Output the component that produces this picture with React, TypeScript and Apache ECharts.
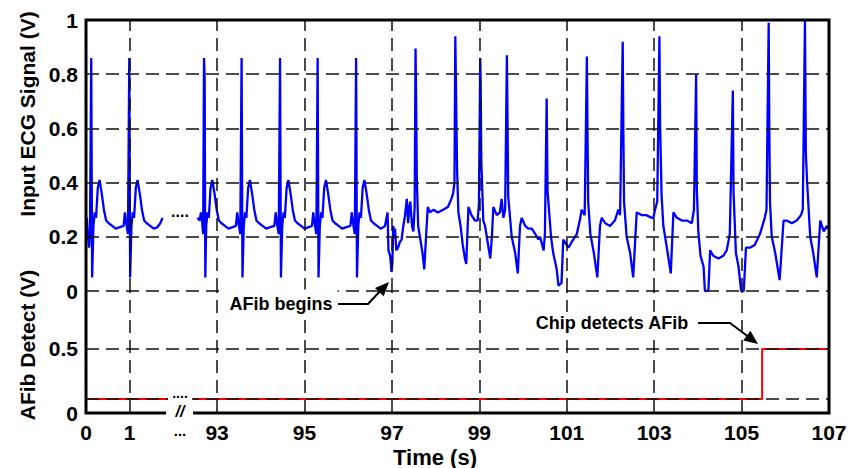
import React, { useEffect, useRef } from "react";
import * as echarts from "echarts";

// ---- data (time in seconds, voltage in V) ----
const ecgBeforeBreak: [number, number][] = [
  [0.0, 0.24], [0.02, 0.27], [0.04, 0.21], [0.07, 0.16], [0.09, 0.21],
  [0.12, 0.86], [0.14, 0.05], [0.17, 0.24], [0.2, 0.29], [0.23, 0.27], [0.27, 0.38], [0.31, 0.41],
  [0.36, 0.36], [0.41, 0.3], [0.46, 0.26], [0.52, 0.25], [0.6, 0.24], [0.68, 0.23], [0.76, 0.235],
  [0.86, 0.24], [0.89, 0.29], [0.92, 0.25], [0.96, 0.21],
  [0.99, 0.86], [1.01, 0.05], [1.04, 0.24], [1.07, 0.29], [1.1, 0.27], [1.14, 0.38], [1.18, 0.41],
  [1.23, 0.36], [1.28, 0.3], [1.33, 0.26], [1.39, 0.25], [1.47, 0.24], [1.55, 0.23], [1.63, 0.235],
  [1.7, 0.25], [1.75, 0.27],
];

const ecgAfterBreak: [number, number][] = [
  [92.55, 0.27], [92.6, 0.26], [92.63, 0.29], [92.66, 0.25], [92.68, 0.21],
  [92.7, 0.86], [92.715, 0.78], [92.73, 0.05], [92.75, 0.24], [92.78, 0.29], [92.81, 0.27], [92.85, 0.38],
  [92.89, 0.41], [92.94, 0.36], [92.99, 0.3], [93.04, 0.26], [93.1, 0.25], [93.18, 0.24], [93.26, 0.23],
  [93.34, 0.235], [93.43, 0.24], [93.46, 0.29], [93.49, 0.25], [93.53, 0.21],
  [93.56, 0.86], [93.58, 0.05], [93.61, 0.24], [93.64, 0.29], [93.67, 0.27], [93.71, 0.38], [93.75, 0.41],
  [93.8, 0.36], [93.85, 0.3], [93.9, 0.26], [93.96, 0.25], [94.04, 0.24], [94.12, 0.23], [94.2, 0.235],
  [94.31, 0.24], [94.34, 0.29], [94.37, 0.25], [94.41, 0.21],
  [94.44, 0.86], [94.46, 0.05], [94.49, 0.24], [94.52, 0.29], [94.55, 0.27], [94.59, 0.38], [94.63, 0.41],
  [94.68, 0.36], [94.73, 0.3], [94.78, 0.26], [94.84, 0.25], [94.92, 0.24], [95.0, 0.23], [95.08, 0.235],
  [95.17, 0.24], [95.2, 0.29], [95.23, 0.25], [95.27, 0.21],
  [95.3, 0.86], [95.32, 0.05], [95.35, 0.24], [95.38, 0.29], [95.41, 0.27], [95.45, 0.38], [95.49, 0.41],
  [95.54, 0.36], [95.59, 0.3], [95.64, 0.26], [95.7, 0.25], [95.78, 0.24], [95.86, 0.23], [95.94, 0.235],
  [96.05, 0.24], [96.08, 0.29], [96.11, 0.25], [96.15, 0.21],
  [96.18, 0.86], [96.2, 0.05], [96.23, 0.24], [96.26, 0.29], [96.29, 0.27], [96.33, 0.38], [96.37, 0.41],
  [96.42, 0.36], [96.47, 0.3], [96.52, 0.26], [96.58, 0.25], [96.66, 0.24], [96.74, 0.23], [96.8, 0.235],
  [96.84, 0.24],
  [96.9, 0.29], [96.92, 0.15], [96.96, 0.13], [96.99, 0.07], [97.01, 0.1], [97.03, 0.24], [97.05, 0.2],
  [97.07, 0.23], [97.1, 0.15], [97.14, 0.16], [97.18, 0.18], [97.22, 0.19], [97.26, 0.24], [97.3, 0.28],
  [97.34, 0.34], [97.37, 0.25], [97.4, 0.31], [97.42, 0.33], [97.46, 0.24],
  [97.49, 0.22], [97.52, 0.31], [97.54, 0.895], [97.555, 0.68], [97.57, 0.41], [97.6, 0.24], [97.64, 0.2],
  [97.7, 0.14], [97.74, 0.08], [97.78, 0.2], [97.82, 0.31], [97.87, 0.29], [97.95, 0.3], [98.05, 0.29], [98.17, 0.3],
  [98.28, 0.31], [98.36, 0.34], [98.4, 0.36], [98.43, 0.4], [98.45, 0.94], [98.47, 0.69], [98.49, 0.45],
  [98.52, 0.29], [98.57, 0.24], [98.62, 0.17], [98.67, 0.12], [98.7, 0.1], [98.75, 0.31], [98.82, 0.28], [98.9, 0.26],
  [98.96, 0.26], [98.99, 0.32],
  [99.02, 0.86], [99.03, 0.77], [99.045, 0.48], [99.09, 0.26], [99.13, 0.24], [99.17, 0.2], [99.25, 0.12],
  [99.29, 0.21], [99.32, 0.31], [99.4, 0.28], [99.47, 0.29], [99.51, 0.34], [99.55, 0.27], [99.59, 0.3],
  [99.63, 0.87], [99.645, 0.63], [99.66, 0.35], [99.74, 0.2], [99.82, 0.14], [99.88, 0.065], [99.93, 0.24],
  [99.97, 0.27], [100.05, 0.24], [100.12, 0.23], [100.2, 0.23], [100.28, 0.21], [100.35, 0.19],
  [100.39, 0.2], [100.47, 0.15], [100.5, 0.21],
  [100.54, 0.71], [100.56, 0.37], [100.64, 0.2], [100.69, 0.14], [100.77, 0.08], [100.81, 0.02],
  [100.88, 0.03], [100.92, 0.19], [100.96, 0.18], [101.04, 0.16], [101.11, 0.18], [101.23, 0.21],
  [101.31, 0.27], [101.34, 0.3], [101.41, 0.28],
  [101.46, 0.865], [101.475, 0.59], [101.49, 0.33], [101.54, 0.21], [101.62, 0.14], [101.7, 0.05],
  [101.76, 0.24], [101.8, 0.27], [101.88, 0.25], [101.99, 0.24], [102.1, 0.26], [102.18, 0.3], [102.22, 0.28],
  [102.28, 0.92], [102.295, 0.59], [102.31, 0.33], [102.37, 0.2], [102.45, 0.14], [102.52, 0.05],
  [102.6, 0.29], [102.71, 0.28], [102.82, 0.28], [102.94, 0.27], [102.98, 0.27], [103.02, 0.3], [103.07, 0.33],
  [103.12, 0.94], [103.135, 0.62], [103.17, 0.35], [103.21, 0.24], [103.29, 0.16], [103.38, 0.065],
  [103.44, 0.29], [103.52, 0.27], [103.63, 0.26], [103.75, 0.26], [103.86, 0.25], [103.91, 0.3],
  [103.96, 0.8], [103.975, 0.38], [104.01, 0.22], [104.06, 0.13], [104.13, 0.09], [104.16, 0.0],
  [104.24, 0.0], [104.28, 0.15], [104.35, 0.13], [104.47, 0.12], [104.58, 0.13], [104.66, 0.15], [104.73, 0.21],
  [104.8, 0.74], [104.815, 0.37], [104.87, 0.14], [104.93, 0.09], [104.99, 0.0], [105.05, 0.0],
  [105.1, 0.16], [105.19, 0.16], [105.3, 0.17], [105.42, 0.21], [105.53, 0.27], [105.57, 0.3],
  [105.62, 0.99], [105.635, 0.58], [105.65, 0.33], [105.69, 0.2], [105.77, 0.14], [105.87, 0.04],
  [105.96, 0.26], [106.03, 0.26], [106.15, 0.25], [106.26, 0.26], [106.36, 0.28], [106.4, 0.3],
  [106.45, 1.0], [106.47, 0.51], [106.5, 0.4], [106.57, 0.2], [106.64, 0.14], [106.72, 0.05],
  [106.8, 0.26], [106.88, 0.22], [106.95, 0.24], [107.0, 0.23],
];

const detectBeforeBreak: [number, number][] = [[0, 0.11], [1.88, 0.11]];
const detectAfterBreak: [number, number][] = [[92.45, 0.11], [105.47, 0.11], [105.47, 0.5], [107, 0.5]];

const timeTickLabels = [0, 1, 93, 95, 97, 99, 101, 103, 105, 107];
const timeGridLines = [1, 93, 95, 97, 99, 101, 103, 105];
const ecgGridLines = [0, 0.2, 0.4, 0.6, 0.8];
const detectGridLines = [0.11, 0.5];
const detectTickLabels = [0, 0.5];
const detectAxisMax = 0.953;
const BREAK_OFFSET = 90; // seconds hidden by the axis break

// ---- helpers ----
const toAxis = (t: number) => (t > 50 ? t - BREAK_OFFSET : t);
const mapPts = (pts: [number, number][]) => pts.map(([t, v]) => [toAxis(t), v]);
const FONT = "'Liberation Sans', Arial, Helvetica, sans-serif";

const dash = [13, 7];

function arrowHead(tip: [number, number], from: [number, number], len: number, half: number) {
  const dx = tip[0] - from[0];
  const dy = tip[1] - from[1];
  const d = Math.hypot(dx, dy);
  const ux = dx / d, uy = dy / d;
  const bx = tip[0] - ux * len, by = tip[1] - uy * len;
  return [tip, [bx - uy * half, by + ux * half], [bx + uy * half, by - ux * half]];
}

export default function App() {
  const ref = useRef<HTMLDivElement>(null);
  useEffect(() => {
    if (!ref.current) return;
    const chart = echarts.init(ref.current, undefined, { renderer: "svg" });
    const gridLineStyle = { color: "#111", width: 1.5, type: dash };
    const labelStyle = { color: "#000", fontSize: 21, fontWeight: "bold" as const, fontFamily: FONT };
    const txt = (x: number, y: number, text: string, size: number, extra: any = {}) => ({
      type: "text", x, y, z: 100, ...extra,
      style: { text, fill: "#000", font: `bold ${size}px ${FONT}`, textAlign: "center", textVerticalAlign: "middle", ...(extra.style || {}) },
    });
    const a1From: [number, number] = [368, 304];
    const a1Tip: [number, number] = [389, 282];
    const a2From: [number, number] = [730, 323];
    const a2Tip: [number, number] = [758, 344];

    chart.setOption({
      animation: false,
      grid: [
        { left: 86, top: 20, width: 743, height: 271 },
        { left: 86, top: 291, width: 743, height: 122 },
      ],
      xAxis: [
        { type: "value", gridIndex: 0, min: 0, max: 17, interval: 1, show: false },
        {
          type: "value", gridIndex: 1, min: 0, max: 17, interval: 1,
          axisLine: { show: false }, axisTick: { show: false }, splitLine: { show: false },
          axisLabel: {
            ...labelStyle, margin: 9,
            formatter: (v: number) => {
              const t = timeTickLabels.find((tt) => Math.abs(toAxis(tt) - v) < 1e-6);
              return t === undefined ? "" : String(t);
            },
          },
        },
      ],
      yAxis: [
        {
          type: "value", gridIndex: 0, min: 0, max: 1, interval: 0.2,
          axisLine: { show: false }, axisTick: { show: false }, splitLine: { show: false },
          axisLabel: { ...labelStyle, margin: 8 },
        },
        {
          type: "value", gridIndex: 1, min: 0, max: detectAxisMax, interval: 0.5,
          axisLine: { show: false }, axisTick: { show: false }, splitLine: { show: false },
          axisLabel: {
            ...labelStyle, margin: 8,
            formatter: (v: number) => (detectTickLabels.some((d) => Math.abs(d - v) < 1e-6) ? String(v) : ""),
          },
        },
      ],
      series: [
        {
          type: "line", xAxisIndex: 0, yAxisIndex: 0, data: [], z: 1, silent: true,
          markLine: {
            silent: true, symbol: ["none", "none"], label: { show: false }, lineStyle: gridLineStyle,
            data: [
              ...ecgGridLines.map((v) => ({ yAxis: v })),
              ...timeGridLines.map((t) => ({ xAxis: toAxis(t) })),
            ],
          },
        },
        {
          type: "line", xAxisIndex: 0, yAxisIndex: 0, data: mapPts(ecgBeforeBreak), z: 3,
          showSymbol: false, lineStyle: { color: "#0000ff", width: 2.3 },
        },
        {
          type: "line", xAxisIndex: 0, yAxisIndex: 0, data: mapPts(ecgAfterBreak), z: 3,
          showSymbol: false, lineStyle: { color: "#0000ff", width: 2.3 },
        },
        {
          type: "line", xAxisIndex: 1, yAxisIndex: 1, data: mapPts(detectBeforeBreak), z: 3,
          showSymbol: false, lineStyle: { color: "#ff0000", width: 2 },
        },
        {
          type: "line", xAxisIndex: 1, yAxisIndex: 1, data: mapPts(detectAfterBreak), z: 3,
          showSymbol: false, lineStyle: { color: "#ff0000", width: 2 },
        },
        {
          type: "line", xAxisIndex: 1, yAxisIndex: 1, data: [], z: 4, silent: true,
          markLine: {
            silent: true, symbol: ["none", "none"], label: { show: false }, lineStyle: gridLineStyle,
            data: [
              ...detectGridLines.map((v) => ({ yAxis: v })),
              ...timeGridLines.map((t) => ({ xAxis: toAxis(t) })),
            ],
          },
        },
      ],
      graphic: [
        { type: "rect", z: 80, shape: { x: 86, y: 20, width: 743, height: 393 }, style: { fill: "none", stroke: "#000", lineWidth: 3 } },
        { type: "rect", z: 90, shape: { x: 166, y: 406, width: 27, height: 14 }, style: { fill: "#fff" } },
        { type: "rect", z: 90, shape: { x: 168, y: 394, width: 24, height: 10 }, style: { fill: "#fff" } },
        txt(180, 411, "//", 16, { style: { font: `italic bold 16px ${FONT}` } }),
        txt(180, 211, "....", 16),
        txt(180, 393, "....", 14),
        txt(180, 430, "...", 15),
        txt(281, 304, "AFib begins", 18, { style: { backgroundColor: "#fff", padding: [7, 5, 4, 5] } }),
        { type: "polyline", z: 100, shape: { points: [[338, 304], a1From, [383, 288]] }, style: { stroke: "#000", lineWidth: 2, fill: "none" } },
        { type: "polygon", z: 100, shape: { points: arrowHead(a1Tip, a1From, 14, 6) }, style: { fill: "#000" } },
        txt(612, 323, "Chip detects AFib", 18, { style: { backgroundColor: "#fff", padding: [2, 4, 2, 4] } }),
        { type: "polyline", z: 100, shape: { points: [[698, 323], a2From, [750, 338]] }, style: { stroke: "#000", lineWidth: 2, fill: "none" } },
        { type: "polygon", z: 100, shape: { points: arrowHead(a2Tip, a2From, 14, 6) }, style: { fill: "#000" } },
        txt(27, 114, "Input ECG Signal (V)", 21, { rotation: Math.PI / 2 }),
        txt(27, 345, "AFib Detect (V)", 21, { rotation: Math.PI / 2 }),
        txt(435, 457, "Time (s)", 22),
      ],
    });
    return () => chart.dispose();
  }, []);
  return (
    <div
      ref={ref}
      style={{ position: "fixed", left: 0, top: 0, width: 851, height: 468, background: "#fff" }}
    />
  );
}
